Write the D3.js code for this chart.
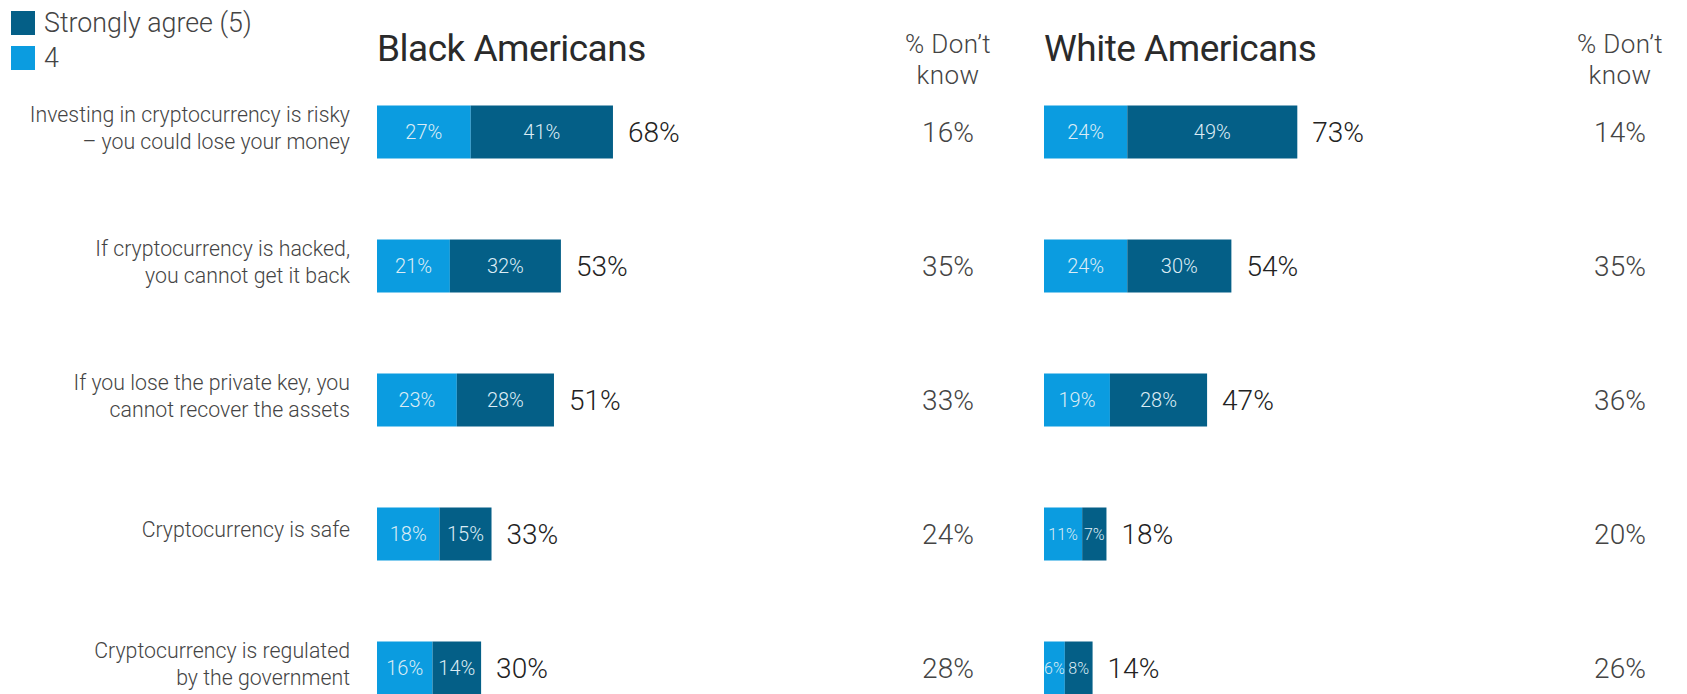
<!DOCTYPE html>
<html>
<head>
<meta charset="utf-8">
<script src="https://cdn.jsdelivr.net/npm/d3@7"></script>
<style>
  html, body { margin: 0; padding: 0; background: #ffffff; }
  svg { display: block; font-family: Roboto, "Noto Sans", sans-serif; }
</style>
</head>
<body>
<svg id="chart" width="1687" height="694"></svg>
<script>
// ---- Data ----
const categories = [
  ["Investing in cryptocurrency is risky", "\u2013 you could lose your money"],
  ["If cryptocurrency is hacked,", "you cannot get it back"],
  ["If you lose the private key, you", "cannot recover the assets"],
  ["Cryptocurrency is safe"],
  ["Cryptocurrency is regulated", "by the government"]
];
const blackAgree4   = [27, 21, 23, 18, 16];
const blackStrongly = [41, 32, 28, 15, 14];
const blackTotal    = [68, 53, 51, 33, 30];
const blackDontKnow = [16, 35, 33, 24, 28];
const whiteAgree4   = [24, 24, 19, 11, 6];
const whiteStrongly = [49, 30, 28, 7, 8];
const whiteTotal    = [73, 54, 47, 18, 14];
const whiteDontKnow = [14, 35, 36, 20, 26];
const legendLabels  = ["Strongly agree (5)", "4"];
const panelTitles   = ["Black Americans", "White Americans"];
const dontKnowTitle = ["% Don\u2019t", "know"];

// ---- Styles ----
const colLight = "#0b9ce0";
const colDark  = "#045f87";

const svg = d3.select("#chart");

const idx = d3.range(categories.length);
const y = d3.scalePoint().domain(idx).range([132, 668]);
const barH = 53;
const xLen = d3.scaleLinear().domain([0, 100]).range([0, 347]);

// Legend
const legend = svg.append("g");
[colDark, colLight].forEach((c, i) => {
  legend.append("rect").attr("x", 11).attr("y", 11 + i * 35).attr("width", 24).attr("height", 24).attr("fill", c);
  legend.append("text").attr("x", 44).attr("y", 23 + i * 35).attr("dy", "0.35em")
    .attr("font-size", 26.8).attr("font-weight", 300).attr("fill", "#444").text(legendLabels[i]);
});

// Category labels
const catG = svg.append("g");
idx.forEach(i => {
  const lines = categories[i];
  const lh = 27;
  const y0 = y(i) - 4 - (lines.length - 1) * lh / 2;
  lines.forEach((ln, j) => {
    catG.append("text").attr("x", 350).attr("y", y0 + j * lh).attr("dy", "0.35em")
      .attr("text-anchor", "end").attr("font-size", 21.3).attr("font-weight", 300)
      .attr("fill", "#444").text(ln);
  });
});

function panel(x0, dkX, title, a4, s5, tot, dk) {
  const g = svg.append("g");
  g.append("text").attr("x", x0).attr("y", 61).attr("font-size", 37).attr("fill", "#2a2a2a")
    .attr("letter-spacing", "-0.5").text(title);
  dontKnowTitle.forEach((t, j) => {
    g.append("text").attr("x", dkX).attr("y", 53 + j * 31).attr("text-anchor", "middle")
      .attr("font-size", 26).attr("font-weight", 300).attr("fill", "#444")
      .attr("letter-spacing", "0.4").text(t);
  });
  const x = d3.scaleLinear().domain([0, 100]).range([x0, x0 + xLen(100)]);
  idx.forEach(i => {
    const segs = [
      {v: a4[i], start: 0, c: colLight},
      {v: s5[i], start: a4[i], c: colDark}
    ];
    segs.forEach(s => {
      const xs = x(s.start), w = x(s.start + s.v) - x(s.start);
      g.append("rect").attr("x", xs).attr("y", y(i) - barH / 2)
        .attr("width", w).attr("height", barH).attr("fill", s.c);
      const fs = w < 40 ? 16 : 20;
      g.append("text").attr("x", xs + w / 2).attr("y", y(i)).attr("dy", "0.35em")
        .attr("text-anchor", "middle").attr("font-size", fs).attr("font-weight", 300)
        .attr("fill", "#dcecf5").text(s.v + "%");
    });
    g.append("text").attr("x", x(tot[i]) + 15).attr("y", y(i)).attr("dy", "0.35em")
      .attr("font-size", 28).attr("font-weight", 300).attr("fill", "#222").text(tot[i] + "%");
    g.append("text").attr("x", dkX).attr("y", y(i)).attr("dy", "0.35em").attr("text-anchor", "middle")
      .attr("font-size", 28).attr("font-weight", 300).attr("fill", "#444").text(dk[i] + "%");
  });
}

panel(377, 948, panelTitles[0], blackAgree4, blackStrongly, blackTotal, blackDontKnow);
panel(1044, 1620, panelTitles[1], whiteAgree4, whiteStrongly, whiteTotal, whiteDontKnow);
</script>
</body>
</html>
